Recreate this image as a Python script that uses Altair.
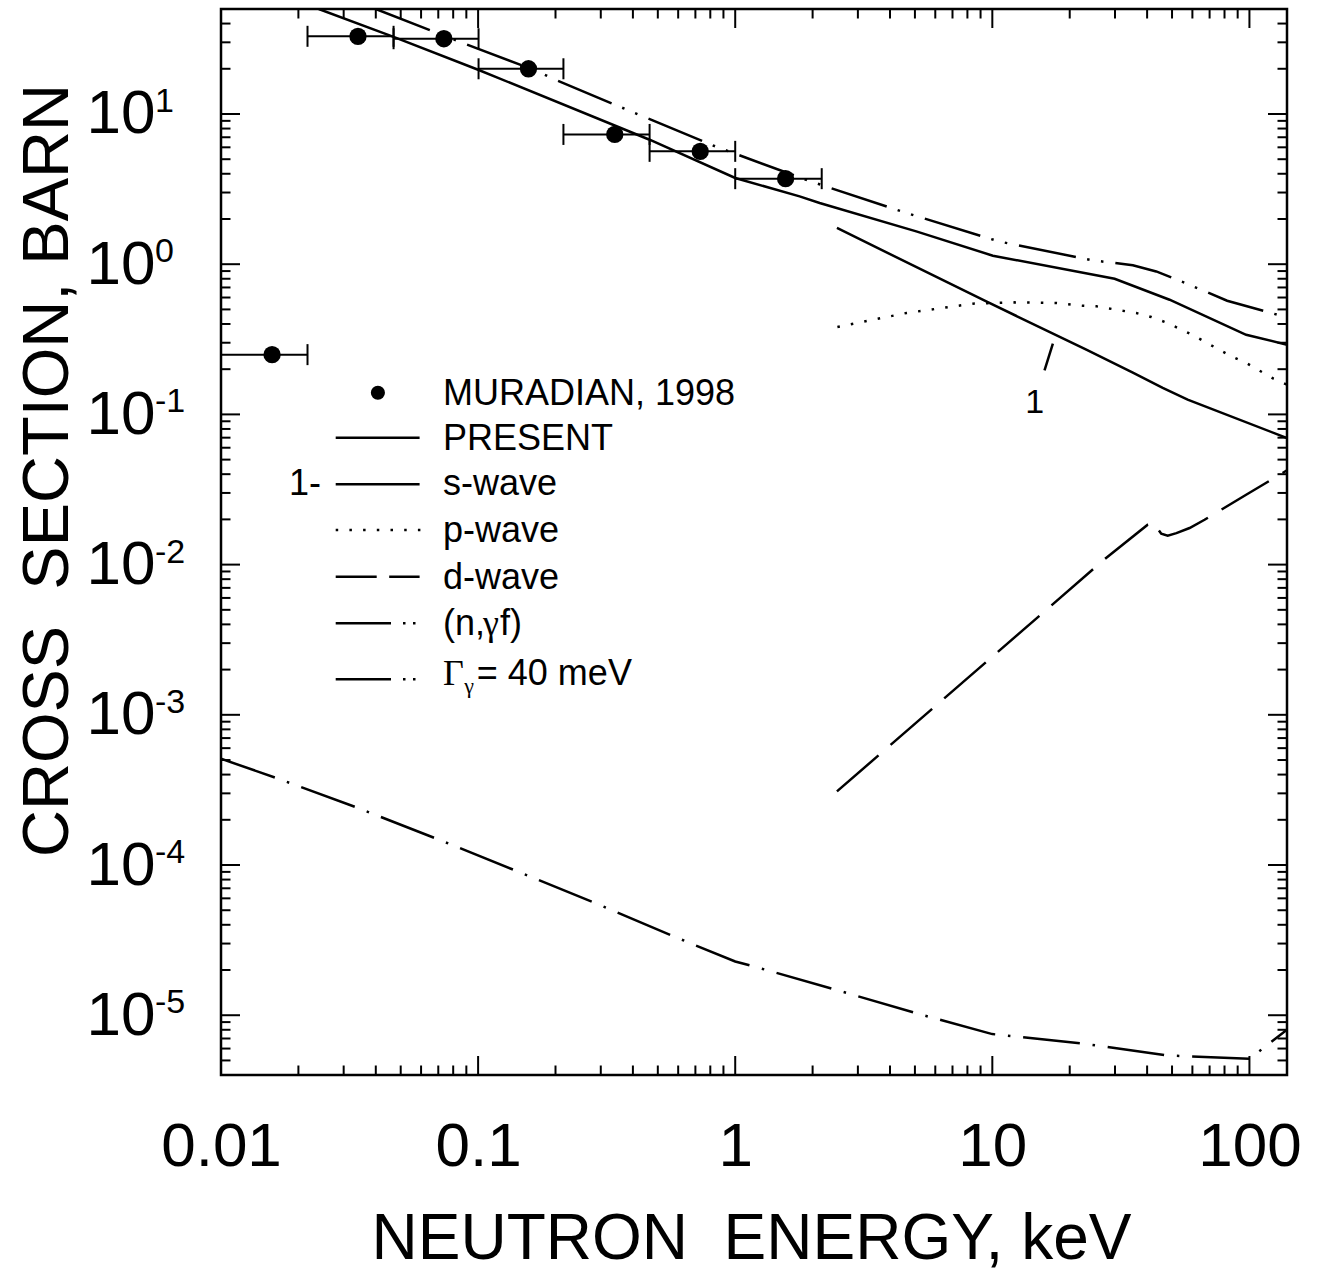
import altair as alt
import pandas as pd

# ---------------- values ----------------
X_DOMAIN = [0.01, 140]
Y_DOMAIN = [4e-6, 50]

X_LABEL_VALUES = [0.01, 0.1, 1, 10, 100]
Y_LABEL_VALUES = [1e1, 1e0, 1e-1, 1e-2, 1e-3, 1e-4, 1e-5]
Y_EXPONENTS = ["1", "0", "-1", "-2", "-3", "-4", "-5"]

X_MAJOR_TICKS = [0.1, 1, 10, 100]
X_MINOR_TICKS = [0.02, 0.03, 0.04, 0.05, 0.06, 0.07, 0.08, 0.09,
                 0.2, 0.3, 0.4, 0.5, 0.6, 0.7, 0.8, 0.9,
                 2, 3, 4, 5, 6, 7, 8, 9,
                 20, 30, 40, 50, 60, 70, 80, 90]
Y_MAJOR_TICKS = [1e-5, 1e-4, 1e-3, 1e-2, 1e-1, 1, 10]
Y_MINOR_TICKS = [5e-6, 6e-6, 7e-6, 8e-6, 9e-6,
                 2e-5, 3e-5, 4e-5, 5e-5, 6e-5, 7e-5, 8e-5, 9e-5,
                 2e-4, 3e-4, 4e-4, 5e-4, 6e-4, 7e-4, 8e-4, 9e-4,
                 2e-3, 3e-3, 4e-3, 5e-3, 6e-3, 7e-3, 8e-3, 9e-3,
                 0.02, 0.03, 0.04, 0.05, 0.06, 0.07, 0.08, 0.09,
                 0.2, 0.3, 0.4, 0.5, 0.6, 0.7, 0.8, 0.9,
                 2, 3, 4, 5, 6, 7, 8, 9,
                 20, 30, 40]

# MURADIAN, 1998 (points with energy-bin error bars)
MUR_E = [0.0158, 0.0341, 0.0736, 0.157, 0.340, 0.731, 1.57]
MUR_SIGMA = [0.25, 32.9, 31.7, 20.0, 7.31, 5.64, 3.71]
MUR_E_LO = [0.01, 0.0217, 0.0469, 0.1004, 0.2147, 0.4645, 1.0]
MUR_E_HI = [0.0217, 0.0469, 0.1004, 0.2147, 0.4645, 1.0, 2.17]

# PRESENT (solid)
PRESENT_E = [0.024, 0.0469, 0.1, 0.4645, 1.0, 1.78, 2.13, 5.06, 10.05, 29.9, 48.9, 97.1, 140]
PRESENT_S = [50, 32.6, 19.7, 6.74, 3.75, 2.83, 2.555, 1.653, 1.139, 0.80, 0.58, 0.339, 0.291]

# 1 - s-wave (solid)
SWAVE_E = [2.487, 9.47, 23.2, 35.2, 46.0, 57.5, 140]
SWAVE_S = [1.742, 0.565, 0.2696, 0.190, 0.150, 0.1253, 0.0696]

# p-wave (dotted)
PWAVE_E = [2.497, 4.63, 8.40, 12.2, 17.7, 22.5, 25.4, 36.3, 41.5, 47.4, 59.8, 67.9, 86.1, 97.1, 124, 140]
PWAVE_S = [0.382, 0.473, 0.546, 0.557, 0.552, 0.529, 0.524, 0.473, 0.445, 0.410, 0.339, 0.301, 0.241, 0.220, 0.173, 0.158]

# d-wave (dashed)
DWAVE_E = [2.487, 27.7, 40.2, 43.0, 43.5, 45.4, 48.1, 52.0, 58.5, 66.9, 97.1, 140]
DWAVE_S = [3.09e-4, 0.01107, 0.01843, 0.0190, 0.0178, 0.01606, 0.01556, 0.0162, 0.01752, 0.0199, 0.0292, 0.0424]

# Gamma_gamma = 40 meV (long dash, two dots)
GG40_E = [0.04, 0.0657, 0.0841, 0.1707, 0.195, 0.359, 0.838, 1.926, 4.56, 10.6, 24.6, 35.2, 43.4, 57.1, 81.9, 140]
GG40_S = [50, 35.9, 30.4, 19.2, 17.2, 11.1, 6.08, 3.60, 2.21, 1.418, 1.06, 0.985, 0.895, 0.742, 0.571, 0.442]

# (n, gamma f) (long dash, dot)
NGF_E = [0.01, 0.01637, 0.0336, 0.0694, 0.1426, 0.2955, 0.6065, 1.0, 1.245, 2.59, 5.31, 10.0, 22.8, 47.5, 100, 140]
NGF_S = [5.10e-4, 3.80e-4, 2.42e-4, 1.49e-4, 9.06e-5, 5.44e-5, 3.23e-5, 2.28e-5, 2.06e-5, 1.44e-5,
         1.007e-5, 7.49e-6, 6.46e-6, 5.40e-6, 5.13e-6, 8.0e-6]

# annotation "1" pointing to the s-wave curve
ANNOT_LEADER_E = [17.2, 15.96]
ANNOT_LEADER_S = [0.2955, 0.1963]
ANNOT_TEXT_E = [14.6]
ANNOT_TEXT_S = [0.1017]
ANNOT_TEXT = ["1"]

# ---------------- chart ----------------
FONT = "Liberation Sans"
W = 1066
H = 1066
X_TITLE = "NEUTRON\u00a0\u00a0ENERGY, keV"
Y_TITLE = "CROSS\u00a0\u00a0SECTION, BARN"

xs = alt.Scale(type="log", domain=X_DOMAIN, nice=False)
ys = alt.Scale(type="log", domain=Y_DOMAIN, nice=False)

x_axis = alt.Axis(
    values=X_LABEL_VALUES, format="~g", grid=False, domain=False, ticks=False, tickSize=0,
    labelFont=FONT, labelFontSize=62, labelColor="black", labelPadding=41,
    labelBaseline="top", labelAlign="center", labelFlush=False, labelOverlap=False, labelBound=False,
    title=X_TITLE, titleFont=FONT, titleFontSize=64,
    titleFontWeight="normal", titleColor="black", titleX=530, titleY=183,
    titleAlign="center", titleBaseline="alphabetic",
)
y_axis = alt.Axis(
    values=Y_LABEL_VALUES, labelExpr="'10'", grid=False, domain=False, ticks=False, tickSize=0,
    labelFont=FONT, labelFontSize=62, labelColor="black", labelPadding=66,
    labelBaseline="middle", labelAlign="right", labelFlush=False, labelOverlap=False, labelBound=False,
    title=Y_TITLE, titleFont=FONT, titleFontSize=65,
    titleFontWeight="normal", titleColor="black", titleAngle=270, titleX=-154, titleY=461,
    titleAlign="center", titleBaseline="alphabetic",
)


def X(field):
    return alt.X(field, scale=xs, axis=x_axis, title=X_TITLE)


def Y(field):
    return alt.Y(field, scale=ys, axis=y_axis, title=Y_TITLE)


def curve(E, S, dash=None):
    df = pd.DataFrame({"E": E, "S": S})
    kw = dict(color="black", strokeWidth=2.5, clip=True)
    if dash:
        kw["strokeDash"] = dash
    return alt.Chart(df).mark_line(**kw).encode(x=X("E:Q"), y=Y("S:Q"))


def xtick_layer(vals, y0, y1):
    return alt.Chart(pd.DataFrame({"E": vals})).mark_rule(color="black", strokeWidth=2).encode(
        x=X("E:Q"), y=alt.value(y0), y2=alt.value(y1))


def ytick_layer(vals, x0, x1):
    return alt.Chart(pd.DataFrame({"S": vals})).mark_rule(color="black", strokeWidth=2).encode(
        y=Y("S:Q"), x=alt.value(x0), x2=alt.value(x1))


one = pd.DataFrame({"k": [0]})


def ltext(txt, x, y, size=36, font=FONT):
    return alt.Chart(one).mark_text(text=txt, align="left", baseline="alphabetic", fontSize=size,
                                    font=font, color="black").encode(x=alt.value(x), y=alt.value(y))


def lline(x1, x2, y, dash=None):
    kw = dict(color="black", strokeWidth=2.5)
    if dash:
        kw["strokeDash"] = dash
    return alt.Chart(one).mark_rule(**kw).encode(x=alt.value(x1), x2=alt.value(x2), y=alt.value(y))


MAJ = 19
MIN = 9.5
layers = [
    curve(PRESENT_E, PRESENT_S),
    xtick_layer(X_MAJOR_TICKS, H, H - MAJ),
    xtick_layer(X_MINOR_TICKS, H, H - MIN),
    xtick_layer(X_MAJOR_TICKS, 0, MAJ),
    xtick_layer(X_MINOR_TICKS, 0, MIN),
    ytick_layer(Y_MAJOR_TICKS, 0, MAJ),
    ytick_layer(Y_MINOR_TICKS, 0, MIN),
    ytick_layer(Y_MAJOR_TICKS, W, W - MAJ),
    ytick_layer(Y_MINOR_TICKS, W, W - MIN),
    curve(SWAVE_E, SWAVE_S),
    curve(PWAVE_E, PWAVE_S, dash=[2.5, 11.2]),
    curve(DWAVE_E, DWAVE_S, dash=[55, 16]),
    curve(GG40_E, GG40_S, dash=[58, 11.5, 2.5, 11.5, 2.5, 12]),
    curve(NGF_E, NGF_S, dash=[57, 12.8, 2.5, 12.8]),
]

# error bars and points
err_df = pd.DataFrame({"lo": MUR_E_LO, "hi": MUR_E_HI, "S": MUR_SIGMA})
layers.append(alt.Chart(err_df).mark_rule(color="black", strokeWidth=2).encode(
    x=X("lo:Q"), x2="hi:Q", y=Y("S:Q")))
caps_df = pd.DataFrame({"E": MUR_E_LO + MUR_E_HI, "S": MUR_SIGMA + MUR_SIGMA})
layers.append(alt.Chart(caps_df).mark_rule(color="black", strokeWidth=2, yOffset=-10.5, y2Offset=10.5).encode(
    x=X("E:Q"), y=Y("S:Q"), y2="S:Q"))
pts_df = pd.DataFrame({"E": MUR_E, "S": MUR_SIGMA})
layers.append(alt.Chart(pts_df).mark_circle(size=300, color="black", opacity=1).encode(
    x=X("E:Q"), y=Y("S:Q")))

# superscript exponents of the y tick labels
exp_df = pd.DataFrame({"S": Y_LABEL_VALUES, "t": Y_EXPONENTS})
layers.append(alt.Chart(exp_df).mark_text(align="left", baseline="alphabetic", fontSize=34, font=FONT,
                                          color="black", dy=-2).encode(
    y=Y("S:Q"), x=alt.value(-66), text="t:N"))

# annotation "1"
lead_df = pd.DataFrame({"E1": [ANNOT_LEADER_E[0]], "E2": [ANNOT_LEADER_E[1]],
                        "S1": [ANNOT_LEADER_S[0]], "S2": [ANNOT_LEADER_S[1]]})
layers.append(alt.Chart(lead_df).mark_rule(color="black", strokeWidth=2.5).encode(
    x=X("E1:Q"), x2="E2:Q", y=Y("S1:Q"), y2="S2:Q"))
ann_df = pd.DataFrame({"E": ANNOT_TEXT_E, "S": ANNOT_TEXT_S, "t": ANNOT_TEXT})
layers.append(alt.Chart(ann_df).mark_text(align="center", baseline="alphabetic", fontSize=34, font=FONT,
                                          color="black").encode(
    x=X("E:Q"), y=Y("S:Q"), text="t:N"))

# legend (drawn inside the plot)
LX1, LX2, TX = 114.7, 198.6, 221.9
layers += [
    alt.Chart(one).mark_circle(size=200, color="black", opacity=1).encode(x=alt.value(156.9), y=alt.value(383.7)),
    ltext("MURADIAN, 1998", TX, 396),
    lline(LX1, LX2, 428.7),
    ltext("PRESENT", TX, 441),
    ltext("1-", 68, 486),
    lline(LX1, LX2, 475.3),
    ltext("s-wave", TX, 486),
    lline(LX1, 199.5, 521, dash=[2.5, 11.2]),
    ltext("p-wave", TX, 533),
    lline(LX1, LX2, 567.7, dash=[41, 12.5]),
    ltext("d-wave", TX, 580),
    lline(LX1, 195, 614.3, dash=[55.3, 12, 2.5, 7.5, 2.5, 50]),
    ltext("(n,", TX, 626),
    ltext("\u03b3", TX + 40, 626, size=36, font="Liberation Serif"),
    ltext("f)", TX + 57, 626),
    lline(LX1, 195, 670.3, dash=[55.3, 12, 2.5, 7.5, 2.5, 50]),
    ltext("\u0393", TX, 676, size=36, font="Liberation Serif"),
    ltext("\u03b3", 243.3, 684, size=22, font="Liberation Serif"),
    ltext("= 40 meV", 255.8, 676),
]

chart = alt.layer(*layers).properties(
    width=W, height=H,
    padding={"left": 221, "top": 9, "right": 35, "bottom": 197},
    autosize=alt.AutoSizeParams(type="none"),
).configure_view(stroke="black", strokeWidth=2.5)

chart.save("out.html", embed_options={"renderer": "svg", "actions": False})
